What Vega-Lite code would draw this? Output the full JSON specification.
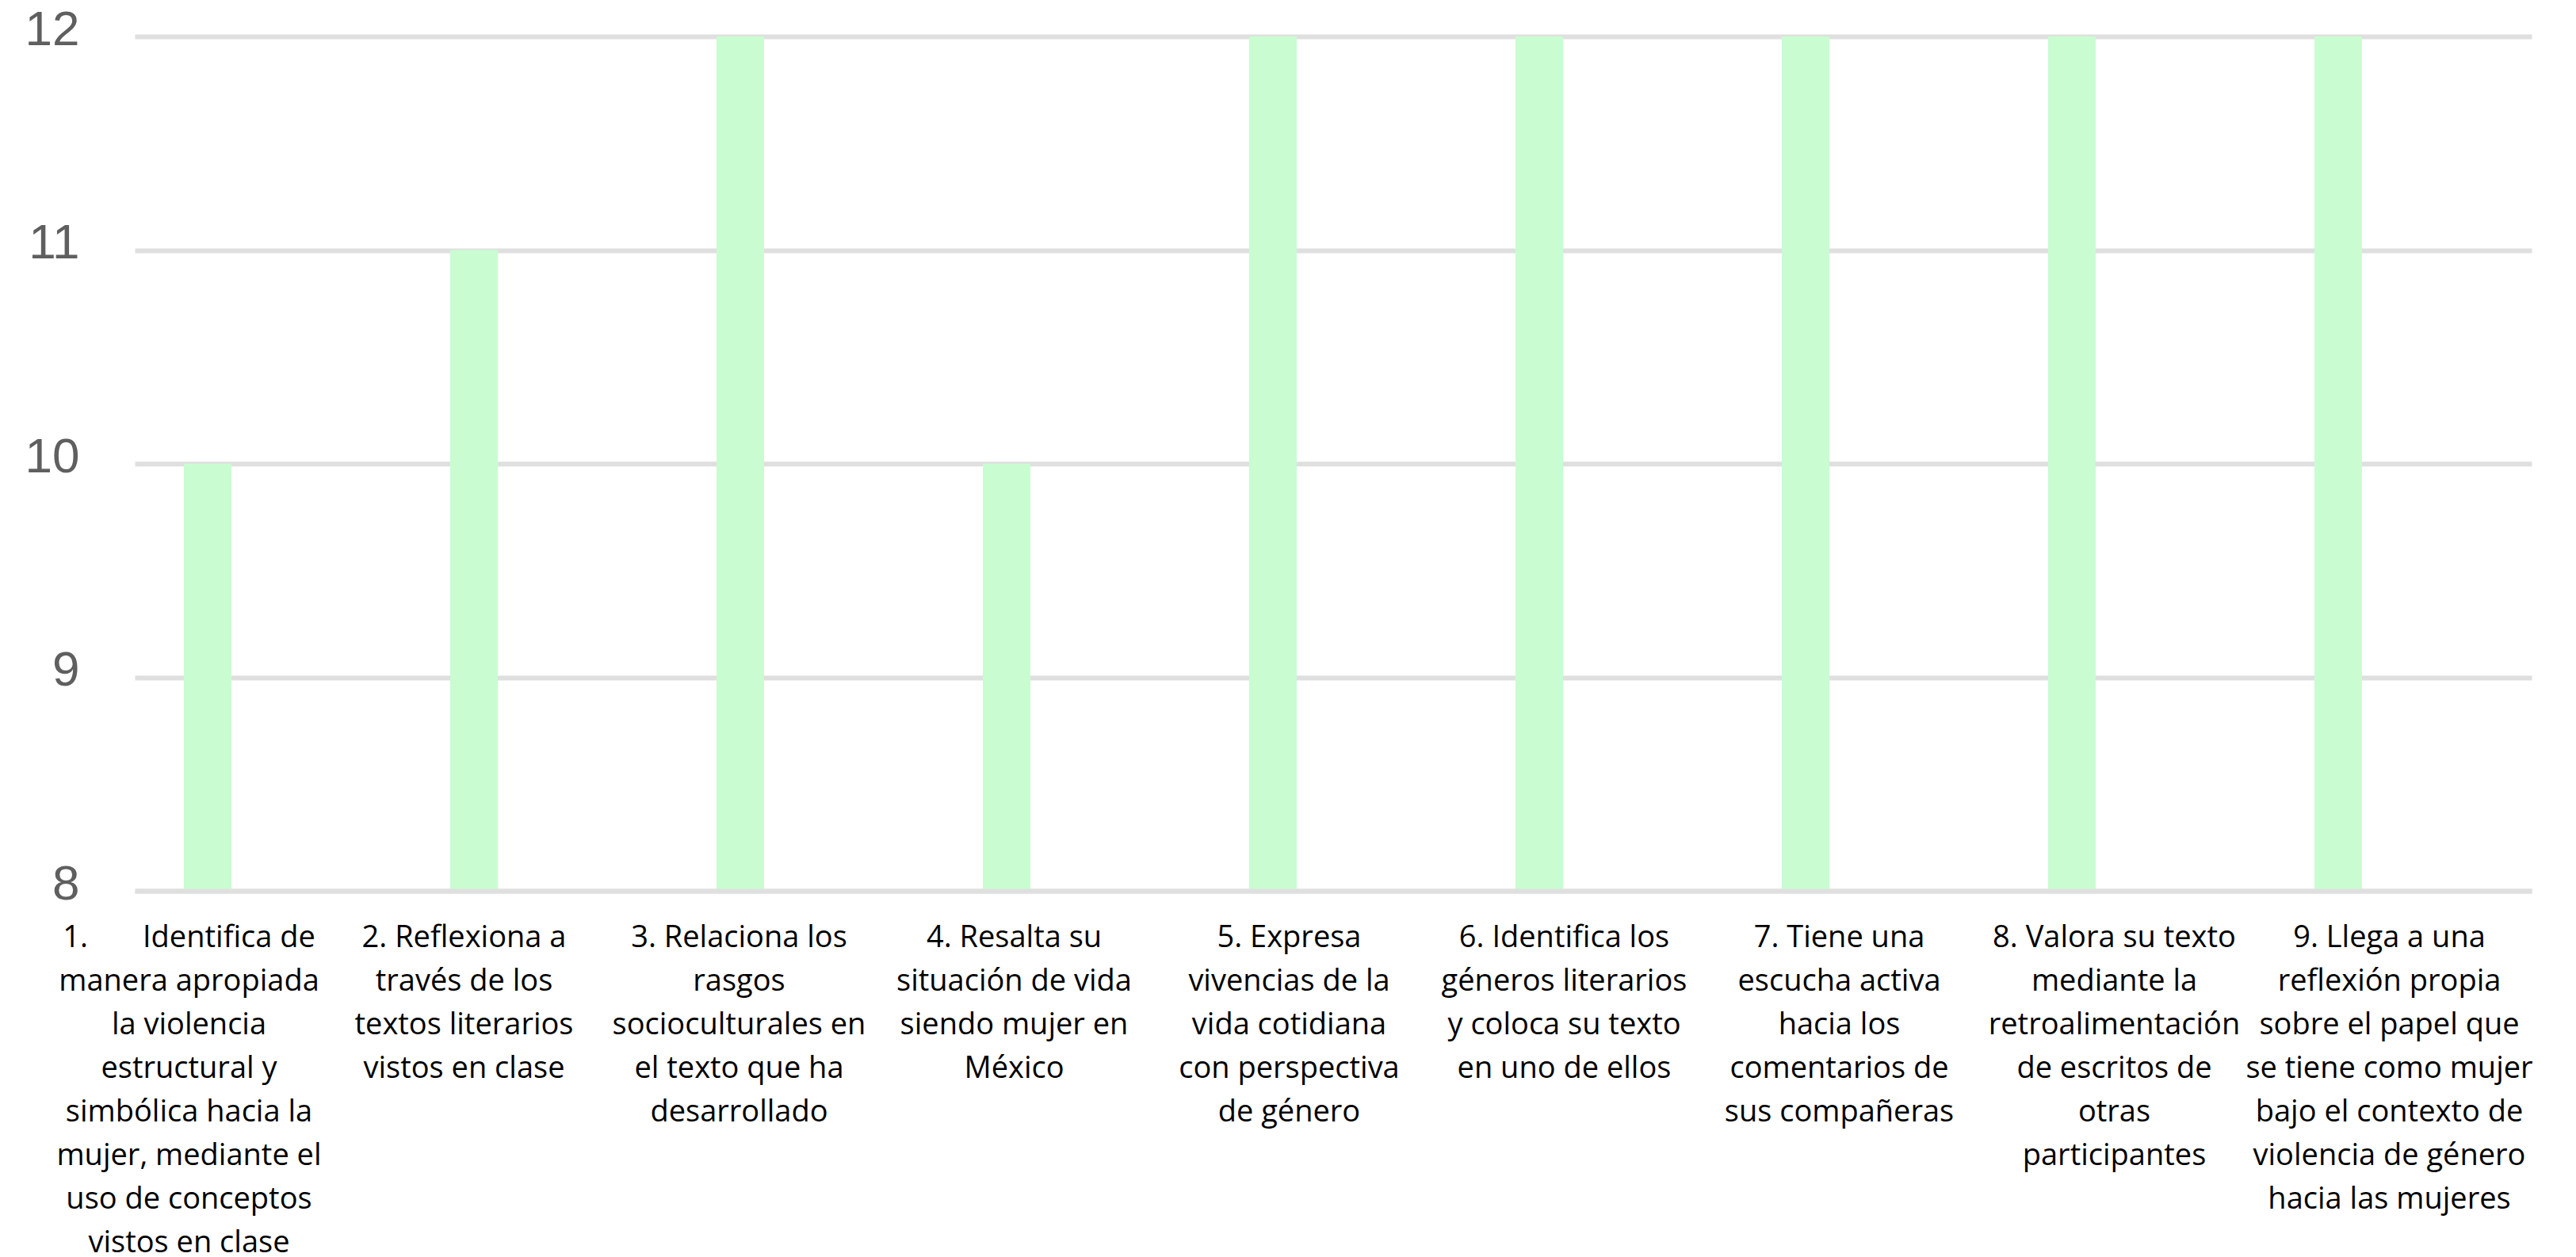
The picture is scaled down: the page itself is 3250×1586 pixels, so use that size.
{
  "$schema": "https://vega.github.io/schema/vega-lite/v6.json",
  "autosize": {"type": "none"},
  "padding": {"left": 170, "top": 46, "right": 56, "bottom": 462},
  "width": 3024,
  "height": 1078,
  "background": "white",
  "data": {
    "values": [
      {"label": "1.\u00a0\u00a0\u00a0\u00a0\u00a0\u00a0\u00a0Identifica de\u00a0\u00a0\u00a0\u00a0\u00a0|manera apropiada|la violencia|estructural y|simbólica hacia la|mujer, mediante el|uso de conceptos|vistos en clase", "value": 10},
      {"label": "2. Reflexiona a|través de los|textos literarios|vistos en clase", "value": 11},
      {"label": "3. Relaciona los|rasgos|socioculturales en|el texto que ha|desarrollado", "value": 12},
      {"label": "4. Resalta su|situación de vida|siendo mujer en|México", "value": 10},
      {"label": "5. Expresa|vivencias de la|vida cotidiana|con perspectiva|de género", "value": 12},
      {"label": "6. Identifica los|géneros literarios|y coloca su texto|en uno de ellos", "value": 12},
      {"label": "7. Tiene una|escucha activa|hacia los|comentarios de|sus compañeras", "value": 12},
      {"label": "8. Valora su texto|mediante la|retroalimentación|de escritos de|otras|participantes", "value": 12},
      {"label": "9. Llega a una|reflexión propia|sobre el papel que|se tiene como mujer|bajo el contexto de|violencia de género|hacia las mujeres", "value": 12}
    ]
  },
  "layer": [
    {
      "mark": {"type": "bar", "color": "#C9FCD1", "width": 60, "xOffset": -76},
      "encoding": {
        "x": {
          "field": "label",
          "type": "nominal",
          "sort": null,
          "scale": {"paddingInner": 0, "paddingOuter": 0},
          "axis": {
            "title": null,
            "labels": false,
            "ticks": false,
            "tickSize": 0,
            "domain": true,
            "domainColor": "#DFDFDF",
            "domainWidth": 6,
            "zindex": 1,
            "orient": "bottom"
          }
        },
        "y": {
          "field": "value",
          "type": "quantitative",
          "scale": {"domain": [8, 12], "nice": false, "zero": false},
          "axis": {
            "title": null,
            "values": [8, 9, 10, 11, 12],
            "format": "d",
            "ticks": false,
            "tickSize": 0,
            "domain": false,
            "grid": true,
            "gridColor": "#DFDFDF",
            "gridWidth": 6,
            "labelFont": "Liberation Sans",
            "labelFontSize": 62,
            "labelColor": "#5F5F5F",
            "labelPadding": 70,
            "labelOffset": -9
          }
        },
        "y2": {"datum": 8}
      }
    },
    {
      "mark": {
        "type": "text",
        "font": "Open Sans",
        "fontSize": 38,
        "color": "#000000",
        "align": "center",
        "baseline": "top",
        "lineHeight": 55,
        "lineBreak": "|",
        "dy": 41
      },
      "encoding": {
        "x": {
          "field": "label",
          "type": "nominal",
          "sort": null,
          "scale": {"range": [-105, 3018], "paddingInner": 0, "paddingOuter": 0},
          "axis": null
        },
        "y": {"datum": 8, "type": "quantitative"},
        "text": {"field": "label"}
      }
    }
  ],
  "resolve": {"scale": {"x": "independent"}},
  "config": {"view": {"stroke": null}}
}
